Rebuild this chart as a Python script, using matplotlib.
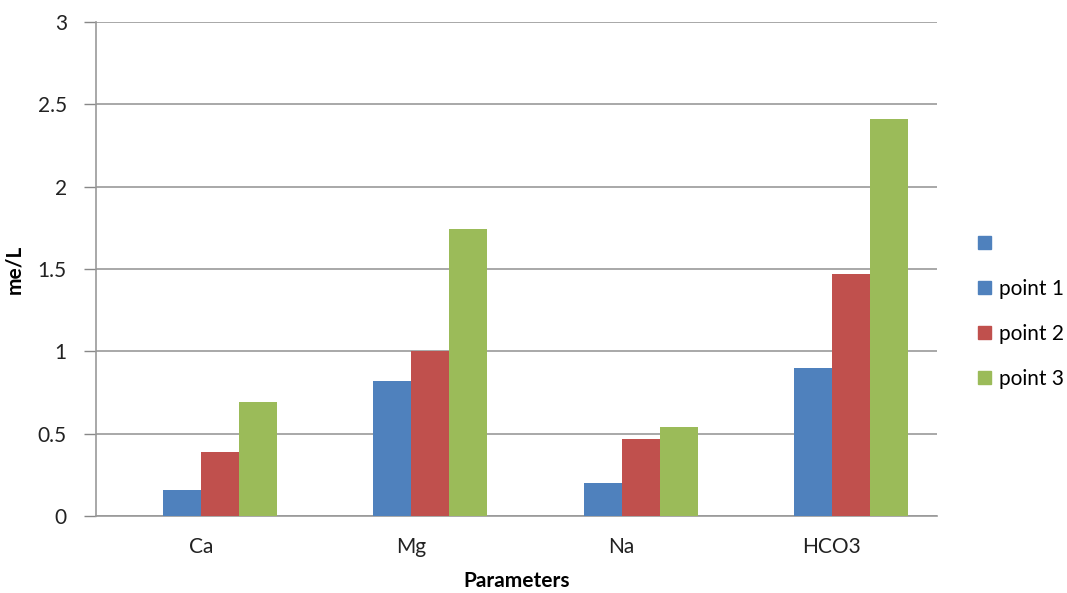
import numpy as np
import matplotlib.pyplot as plt
from matplotlib.patches import Patch

plt.rcParams['font.family'] = ['Lato', 'DejaVu Sans']

params = ['Ca', 'Mg', 'Na', 'HCO3']
series_names = ['', 'point 1', 'point 2', 'point 3']
blank = [np.nan, np.nan, np.nan, np.nan]
point1 = [0.16, 0.82, 0.20, 0.90]
point2 = [0.39, 1.00, 0.47, 1.47]
point3 = [0.69, 1.74, 0.54, 2.41]
colors = ['#4F81BD', '#4F81BD', '#C0504D', '#9BBB59']

fig = plt.figure(figsize=(10.67, 5.93), dpi=100)
ax = fig.add_axes([96/1067, 1 - 516/593, (937 - 96)/1067, (516 - 22)/593])

x = np.arange(len(params))
w = 0.181
for i, vals in enumerate([blank, point1, point2, point3]):
    ax.bar(x + (i - 1.5) * w, vals, w, color=colors[i], zorder=3)

ax.set_xlim(-0.5, 3.5)
ax.set_ylim(0, 3)
ax.set_yticks([0, 0.5, 1, 1.5, 2, 2.5, 3])
ax.set_yticklabels(['0', '0.5', '1', '1.5', '2', '2.5', '3'])
ax.set_xticks(x)
ax.set_xticklabels(params)
ax.tick_params(axis='x', length=0, pad=15, labelsize=15, colors='#222222')
ax.tick_params(axis='y', length=9, width=1, color='#888888', pad=12,
               labelsize=15, labelcolor='#222222')
ax.grid(axis='y', color='#999999', linewidth=1.2, zorder=0)
for s in ['top', 'right']:
    ax.spines[s].set_visible(False)
for s in ['left', 'bottom']:
    ax.spines[s].set_color('#999999')
    ax.spines[s].set_linewidth(1.2)

ax.set_xlabel('Parameters', fontsize=15, fontweight='bold', labelpad=10)
ax.set_ylabel('me/L', fontsize=15, fontweight='bold', labelpad=10)

handles = [Patch(color=c) for c in colors]
ax.legend(handles, series_names, loc='center left', bbox_to_anchor=(1.027, 0.414),
          frameon=False, fontsize=15, handlelength=0.6, handleheight=0.6,
          labelspacing=1.2, handletextpad=0.4)

fig.savefig('out.png', dpi=100)
